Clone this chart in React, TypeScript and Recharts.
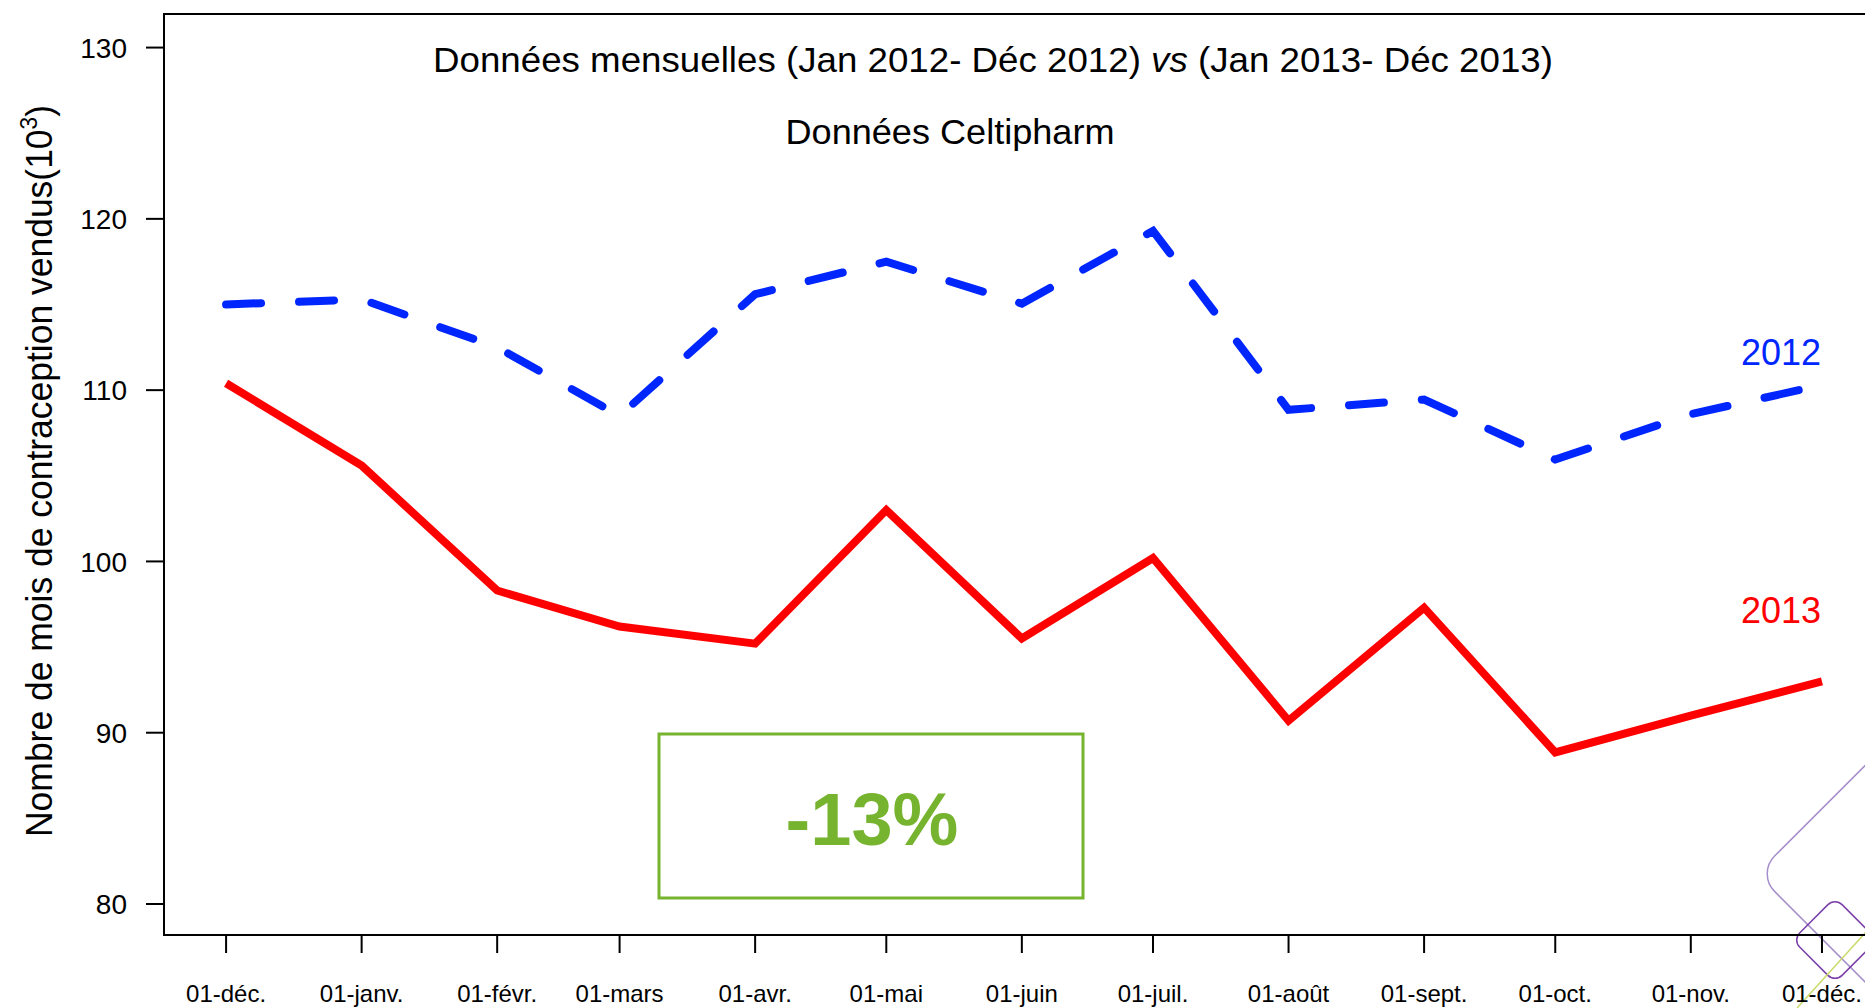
import React from 'react';
import { LineChart, Line, XAxis, YAxis, ReferenceArea, Customized } from 'recharts';

const TICK_LABELS = ['01-déc.', '01-janv.', '01-févr.', '01-mars', '01-avr.', '01-mai', '01-juin', '01-juil.', '01-août', '01-sept.', '01-oct.', '01-nov.', '01-déc.'];
const TICK_DATES = ['2012-12-01', '2013-01-01', '2013-02-01', '2013-03-01', '2013-04-01', '2013-05-01', '2013-06-01', '2013-07-01', '2013-08-01', '2013-09-01', '2013-10-01', '2013-11-01', '2013-12-01'];
const SALES_2012 = [115.0, 115.3, 112.5, 108.5, 115.6, 117.5, 115.05, 119.3, 108.85, 109.45, 105.95, 108.6, 110.3];
const SALES_2013 = [110.4, 105.6, 98.3, 96.2, 95.2, 103.0, 95.5, 100.2, 90.7, 97.3, 88.85, 91.0, 93.0];
const Y_TICKS = [80, 90, 100, 110, 120, 130];

const FONT = "'Liberation Sans', Arial, sans-serif";
const BLUE = '#0026ff';
const RED = '#ff0000';
const GREEN = '#76b32e';

// axis range (days from first tick / values in thousands)
const X_MIN = -14.2;
const X_MAX = 375.3;
const Y_MIN = 78.19;
const Y_MAX = 131.96;

const dayOf = (d: string) => (Date.parse(d) - Date.parse(TICK_DATES[0])) / 86400000;
const DAYS = TICK_DATES.map(dayOf);

const data = DAYS.map((day, i) => ({ day, y2012: SALES_2012[i], y2013: SALES_2013[i] }));

const XTick = (props: any) => {
  const { x, y, payload } = props;
  const idx = DAYS.indexOf(payload.value);
  return (
    <text x={x} y={y + 47} textAnchor="middle" fontSize={24} fontFamily={FONT} fill="#000">
      {TICK_LABELS[idx]}
    </text>
  );
};

const YTick = (props: any) => {
  const { x, y, payload } = props;
  return (
    <text x={x - 17} y={y} dy="0.36em" textAnchor="end" fontSize={28} fontFamily={FONT} fill="#000">
      {payload.value}
    </text>
  );
};

const Overlay = () => (
  <g fontFamily={FONT}>
    <text x={993} y={72} textAnchor="middle" fontSize={35} fill="#000" textLength={1120} lengthAdjust="spacingAndGlyphs">
      Données mensuelles (Jan 2012- Déc 2012) <tspan fontStyle="italic">vs</tspan> (Jan 2013- Déc 2013)
    </text>
    <text x={950} y={144} textAnchor="middle" fontSize={35} fill="#000" textLength={329} lengthAdjust="spacingAndGlyphs">
      Données Celtipharm
    </text>
    <text
      x={52}
      y={471}
      transform="rotate(-90 52 471)"
      textAnchor="middle"
      fontSize={36}
      fill="#000"
      textLength={732}
      lengthAdjust="spacingAndGlyphs"
    >
      Nombre de mois de contraception vendus(10<tspan fontSize={23} dy={-15}>3</tspan><tspan dy={15}>)</tspan>
    </text>
    <text x={1821} y={365} textAnchor="end" fontSize={36} fill={BLUE}>2012</text>
    <text x={1821} y={623} textAnchor="end" fontSize={36} fill={RED}>2013</text>
    <rect x={659} y={734} width={424} height={164} fill="none" stroke={GREEN} strokeWidth={3} />
    <text x={872} y={845} textAnchor="middle" fontSize={74} fontWeight="bold" fill={GREEN}>-13%</text>
    {/* slide decoration in the corner */}
    <rect x={1816} y={732} width={283} height={283} rx={25} fill="none" stroke="#a58fcc" strokeWidth={1.5} transform="rotate(45 1957 873)" />
    <rect x={1805} y={910} width={60} height={60} rx={10} fill="none" stroke="#7a3fa8" strokeWidth={1.5} transform="rotate(45 1835 940)" />
    <line x1={1797} y1={1008} x2={1866} y2={932} stroke="#c8da6a" strokeWidth={1.5} />
  </g>
);

export default function App() {
  return (
    <div style={{ position: 'absolute', left: 0, top: 0, width: 1865, height: 1008, overflow: 'hidden', background: '#fff' }}>
      <LineChart width={1880} height={1008} data={data} margin={{ top: 14, right: 13, bottom: 0, left: 64 }}>
        <XAxis
          dataKey="day"
          type="number"
          domain={[X_MIN, X_MAX]}
          allowDataOverflow
          ticks={DAYS}
          interval={0}
          height={73}
          tickSize={18}
          axisLine={{ stroke: '#000', strokeWidth: 2 }}
          tickLine={{ stroke: '#000', strokeWidth: 2 }}
          tick={<XTick />}
        />
        <YAxis
          type="number"
          domain={[Y_MIN, Y_MAX]}
          allowDataOverflow
          ticks={Y_TICKS}
          interval={0}
          width={100}
          tickSize={18}
          axisLine={{ stroke: '#000', strokeWidth: 2 }}
          tickLine={{ stroke: '#000', strokeWidth: 2 }}
          tick={<YTick />}
        />
        <ReferenceArea x1={X_MIN} x2={X_MAX} y1={Y_MIN} y2={Y_MAX} fill="none" stroke="#000" strokeWidth={2} fillOpacity={0} />
        <Line
          type="linear"
          dataKey="y2012"
          stroke={BLUE}
          strokeWidth={8}
          strokeDasharray="35 38"
          strokeLinecap="round"
          dot={false}
          activeDot={false}
          isAnimationActive={false}
        />
        <Line
          type="linear"
          dataKey="y2013"
          stroke={RED}
          strokeWidth={8}
          dot={false}
          activeDot={false}
          isAnimationActive={false}
        />
        <Customized component={Overlay} />
      </LineChart>
    </div>
  );
}
